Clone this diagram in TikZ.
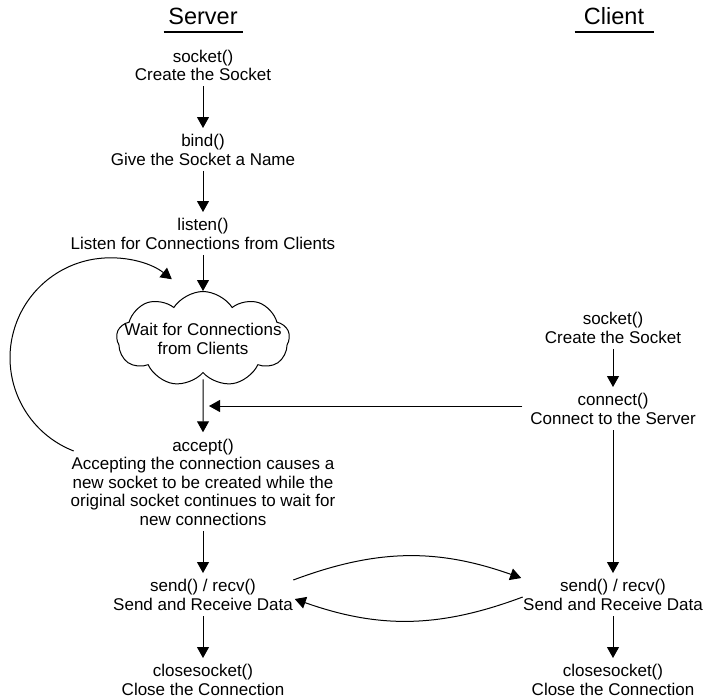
\documentclass[tikz,border=0pt]{standalone}
\usepackage{fontspec}
\setmainfont{Liberation Sans}
\usetikzlibrary{shapes.symbols,arrows.meta,calc}
\begin{document}
\begin{tikzpicture}
  [x=1pt,y=1pt,line width=1pt,
   every node/.style={align=center,inner sep=0pt,font=\fontsize{17}{18.5}\selectfont},
   arr/.style={-{Triangle[width=12pt,length=11pt]},shorten <=5pt,shorten >=6pt},
   heading/.style={font=\fontsize{23.5}{26}\selectfont,minimum width=78pt}]
\useasboundingbox (0,0) rectangle (711,-699);
% Titles
  \node[heading,anchor=base] (hserv) at (203,-24.5) {Server};
  \node[heading,anchor=base] (hcli)  at (614,-24.5) {Client};
  \draw[line width=2pt] ([yshift=-7.5pt]hserv.base west) -- ([yshift=-7.5pt]hserv.base east);
  \draw[line width=2pt] ([yshift=-7.5pt]hcli.base west) -- ([yshift=-7.5pt]hcli.base east);

% Server side
  \node (ssock)  at (203,-65.5) {socket()\\Create the Socket};
  \node (sbind)  at (203,-150)  {bind()\\Give the Socket a Name};
  \node (slist)  at (203,-234)  {listen()\\Listen for Connections from Clients};
  \node[cloud,draw,cloud puffs=9,cloud puff arc=115,cloud ignores aspect,
        minimum width=173pt,minimum height=95pt] (wait) at (203,-339) {};
  \node (waittxt) at (wait.center) {Wait for Connections\\from Clients};
  \node (sacc)   at (203,-482)  {accept()\\Accepting the connection causes a\\new socket to be created while the\\original socket continues to wait for\\new connections};
  \node (ssend)  at (203,-595)  {send() / recv()\\Send and Receive Data};
  \node (sclose) at (203,-680)  {closesocket()\\Close the Connection};

% Client side
  \node (csock)  at (613,-328)  {socket()\\Create the Socket};
  \node (cconn)  at (613,-409)  {connect()\\Connect to the Server};
  \node (csend)  at (613,-595)  {send() / recv()\\Send and Receive Data};
  \node (cclose) at (613,-680)  {closesocket()\\Close the Connection};

% Arrows
  \foreach \from/\to in {ssock/sbind, sbind/slist, sacc/ssend, ssend/sclose,
                         csock/cconn, cconn/csend, csend/cclose}
    \draw[arr] (\from.south) -- (\to.north);
  \draw[arr,shorten >=0pt] (slist.south) -- (wait.north);
  \draw[arr,shorten <=6pt] (wait.south) -- (sacc.north);
  \draw[arr,shorten <=7.5pt,shorten >=0pt] ([yshift=3pt]cconn.west) -- ($(cconn.west -| wait.south)+(6,3)$);

  % loop back to the waiting state
  \coordinate (loopbeg) at (73.7,-451);
  \draw[arr,shorten <=0pt,shorten >=0pt] (loopbeg) arc[start angle=248.7,end angle=51.8,radius=100];

  % data exchange
  \draw[arr,shorten <=0pt,shorten >=0pt] ([yshift=15pt]ssend.east) to[bend left=20] ([xshift=-1.5pt,yshift=17pt]csend.west);
  \draw[arr,shorten <=0pt,shorten >=0pt] ([yshift=-2pt]csend.west) to[bend left=20] ([xshift=1.5pt,yshift=-4pt]ssend.east);
\end{tikzpicture}
\end{document}
